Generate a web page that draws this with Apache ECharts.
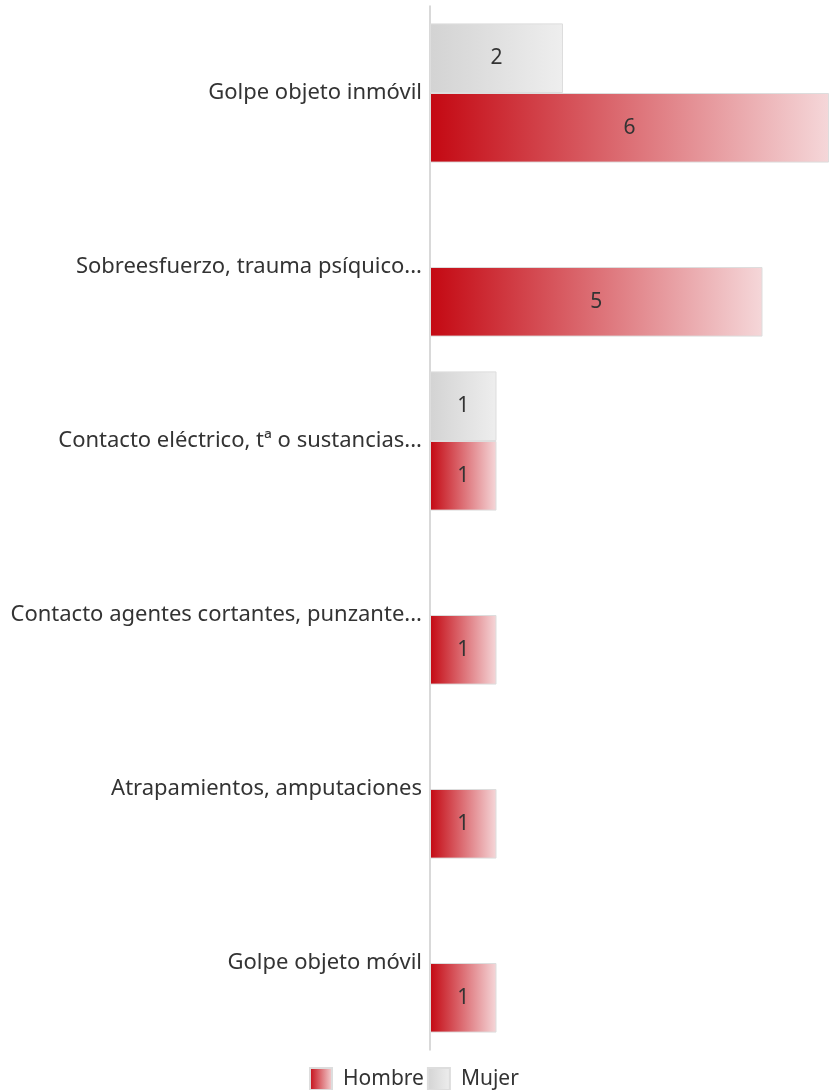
<!DOCTYPE html>
<html>
<head>
<meta charset="utf-8">
<script src="https://cdn.jsdelivr.net/npm/echarts@6/dist/echarts.min.js"></script>
<style>html,body{margin:0;padding:0;background:#fff}#c{width:829px;height:1090px}</style>
</head>
<body>
<div id="c"></div>
<script>
const categories = [
  'Golpe objeto inmóvil',
  'Sobreesfuerzo, trauma psíquico...',
  'Contacto eléctrico, tª o sustancias...',
  'Contacto agentes cortantes, punzante...',
  'Atrapamientos, amputaciones',
  'Golpe objeto móvil'
];
const hombre = [6, 5, 1, 1, 1, 1];
const mujer = [2, null, 1, null, null, null];

const rev = a => a.slice().reverse();
const redGrad = new echarts.graphic.LinearGradient(0, 0, 1, 0, [
  {offset: 0, color: '#c40812'},
  {offset: 1, color: '#f5d7d9'}
]);
const greyGrad = new echarts.graphic.LinearGradient(0, 0, 1, 0, [
  {offset: 0, color: '#d3d3d3'},
  {offset: 1, color: '#eeeeee'}
]);
const font = '"Noto Sans", "Open Sans", sans-serif';
const chart = echarts.init(document.getElementById('c'));
chart.setOption({
  animation: false,
  grid: {left: 430, width: 403, top: 6, bottom: 40, containLabel: false},
  legend: {
    data: ['Hombre', 'Mujer'],
    top: 1062,
    left: 304,
    icon: 'rect',
    itemWidth: 22,
    itemHeight: 22,
    itemGap: 3,
    textStyle: {fontSize: 21, color: '#333', fontFamily: font, padding: [0, 0, 0, 6]}
  },
  xAxis: {
    type: 'value', min: 0, max: 6, show: false
  },
  yAxis: {
    type: 'category',
    data: rev(categories),
    axisLine: {show: true, lineStyle: {color: '#cccccc', width: 1.5}},
    axisTick: {show: false},
    axisLabel: {fontSize: 22, color: '#333', fontFamily: font, margin: 8}
  },
  series: [
    {
      name: 'Mujer', type: 'bar', data: rev(mujer),
      barGap: '0%', barCategoryGap: '20%',
      itemStyle: {color: greyGrad, borderColor: '#dddddd', borderWidth: 1},
      label: {show: true, position: 'inside', fontSize: 21, color: '#333', fontFamily: font}
    },
    {
      name: 'Hombre', type: 'bar', data: rev(hombre),
      barGap: '0%', barCategoryGap: '20%',
      itemStyle: {color: redGrad, borderColor: '#dddddd', borderWidth: 1},
      label: {show: true, position: 'inside', fontSize: 21, color: '#333', fontFamily: font}
    }
  ]
});
</script>
</body>
</html>
